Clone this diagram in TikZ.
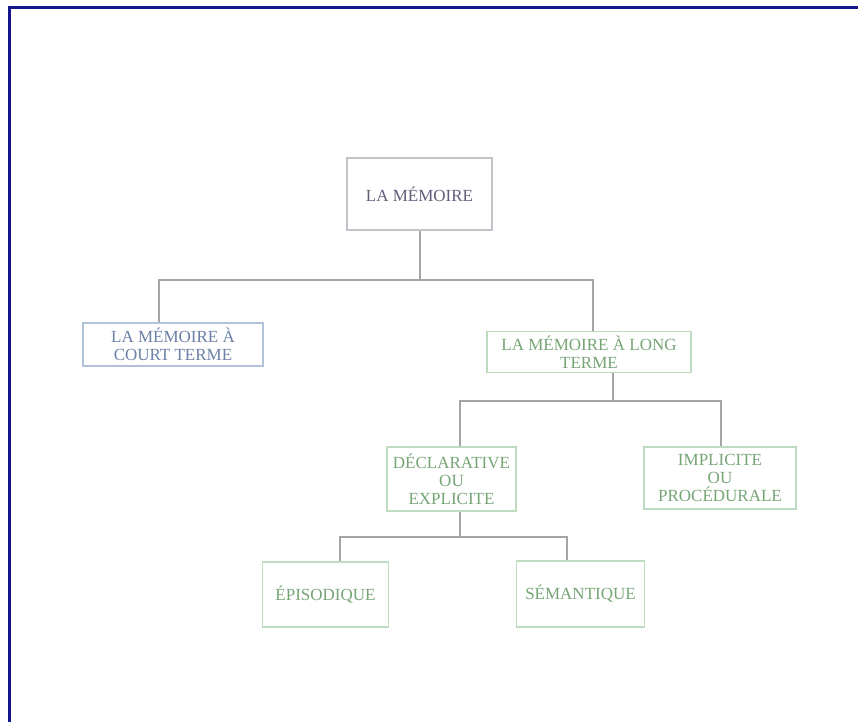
\documentclass[tikz,border=0pt]{standalone}
\usepackage{fontspec}
\setmainfont{Liberation Serif}
\definecolor{txtTop}{RGB}{95,95,122}
\definecolor{txtBlue}{RGB}{108,128,165}
\definecolor{txtGreen}{RGB}{118,165,118}
\definecolor{bdTop}{RGB}{195,195,202}
\definecolor{bdBlue}{RGB}{178,194,216}
\definecolor{bdGreen}{RGB}{192,220,192}
\definecolor{connC}{RGB}{165,165,165}
\definecolor{frameC}{RGB}{22,22,140}
\tikzset{
  box/.style={draw, line width=1.5pt, inner sep=0pt, align=center,
    font=\fontsize{17}{18}\selectfont},
  conn/.style={draw=connC, line width=2pt},
  frameline/.style={draw=frameC, line width=3pt}
}
\begin{document}
\begin{tikzpicture}[x=1pt,y=-1pt]
\useasboundingbox (0,0) rectangle (858,721);
\fill[white] (0,0) rectangle (858,721);
\draw[frameline] (9,722) -- (9,7) -- (859,7);

% nodes
\node[box, draw=bdTop, text=txtTop, minimum width=145pt, minimum height=72pt] (top) at (419.5,194) {LA MÉMOIRE};
\node[box, draw=bdBlue, text=txtBlue, minimum width=180pt, minimum height=43pt] (court) at (173,344.5) {LA MÉMOIRE À\\COURT TERME};
\node[box, draw=bdGreen, text=txtGreen, minimum width=204pt, minimum height=41pt] (long) at (589,352) {LA MÉMOIRE À LONG\\TERME};
\node[box, draw=bdGreen, text=txtGreen, minimum width=129pt, minimum height=64pt] (decl) at (451.5,479) {DÉCLARATIVE\\OU\\EXPLICITE};
\node[box, draw=bdGreen, text=txtGreen, minimum width=152pt, minimum height=62pt] (impl) at (720,478) {IMPLICITE\\OU\\PROCÉDURALE};
\node[box, draw=bdGreen, text=txtGreen, minimum width=126pt, minimum height=65pt] (epis) at (325.5,594.5) {ÉPISODIQUE};
\node[box, draw=bdGreen, text=txtGreen, minimum width=128pt, minimum height=66pt] (sem) at (580.5,594) {SÉMANTIQUE};

% junction coordinates
\coordinate (hL) at (159,280);
\coordinate (hR) at (593,280);
\coordinate (h2L) at (460,401);
\coordinate (h2M) at (613,401);
\coordinate (h2R) at (721,401);
\coordinate (h3L) at (340,537);
\coordinate (h3M) at (460,537);
\coordinate (h3R) at (567,537);

% connectors
\draw[conn] (top.south) -- (top.south |- hL);
\draw[conn] (court.north -| hL) -- (hL) -- (hR) -- (long.north -| hR);
\draw[conn] (long.south -| h2M) -- (h2M);
\draw[conn] (decl.north -| h2L) -- (h2L) -- (h2R) -- (impl.north -| h2R);
\draw[conn] (decl.south -| h3M) -- (h3M);
\draw[conn] (epis.north -| h3L) -- (h3L) -- (h3R) -- (sem.north -| h3R);
\end{tikzpicture}
\end{document}
